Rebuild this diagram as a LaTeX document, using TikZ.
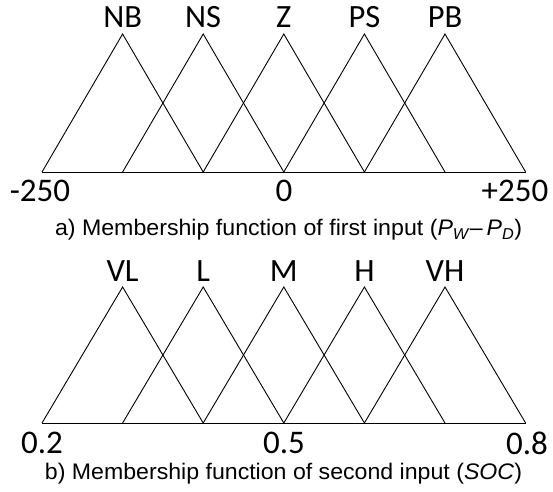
\documentclass[tikz,border=0pt]{standalone}
\usepackage{graphicx}
\usepackage{fontspec}
\setmainfont{Carlito}
\newfontfamily\capfont{Liberation Sans}
\begin{document}
\begin{tikzpicture}[x=1pt,y=-1pt,
  mf/.style={line width=0.9pt,line join=miter},
  lbl/.style={font=\fontsize{32.5}{38}\selectfont,inner sep=0pt},
  ticklbl/.style={font=\fontsize{33}{38}\selectfont,inner sep=0pt},
  captxt/.style={font=\capfont\fontsize{22.5}{26}\selectfont,inner sep=0pt}]
\useasboundingbox (0,0) rectangle (553,491);
% x positions
\def\xa{42}\def\xb{122.6}\def\xc{203.2}\def\xd{283.8}\def\xe{364.4}\def\xf{445}\def\xg{525.6}
% ---- top chart ----
\coordinate (t0) at (\xa,172);
\coordinate (t1) at (\xb,172);
\coordinate (t2) at (\xc,172);
\coordinate (t3) at (\xd,172);
\coordinate (t4) at (\xe,172);
\coordinate (t5) at (\xf,172);
\coordinate (t6) at (\xg,172);
\coordinate (p1) at (\xb,34);
\coordinate (p2) at (\xc,34);
\coordinate (p3) at (\xd,34);
\coordinate (p4) at (\xe,34);
\coordinate (p5) at (\xf,34);
\draw[mf] (t0) -- (t6);
\draw[mf] (t0) -- (p1) -- (t2);
\draw[mf] (t1) -- (p2) -- (t3);
\draw[mf] (t2) -- (p3) -- (t4);
\draw[mf] (t3) -- (p4) -- (t5);
\draw[mf] (t4) -- (p5) -- (t6);
\node[lbl] (nb) at (\xb,17) {NB};
\node[lbl] (ns) at (\xc,17) {NS};
\node[lbl] (z) at (\xd,17) {Z};
\node[lbl] (ps) at (\xe,17) {PS};
\node[lbl] (pb) at (\xf,17) {PB};
\node[ticklbl] (m250) at (40,191) {-250};
\node[ticklbl] (zero) at (284,191) {0};
\node[ticklbl] (p250) at (515,191) {+250};
\node[captxt] (capa) at (288.5,230) {\resizebox{467pt}{\height}{a) Membership function of first input (\textit{P\textsubscript{W}}\kern1pt–\,\textit{P\textsubscript{D}})}};
% ---- bottom chart ----
\coordinate (b0) at (\xa,423);
\coordinate (b1) at (\xb,423);
\coordinate (b2) at (\xc,423);
\coordinate (b3) at (\xd,423);
\coordinate (b4) at (\xe,423);
\coordinate (b5) at (\xf,423);
\coordinate (b6) at (\xg,423);
\coordinate (q1) at (\xb,287);
\coordinate (q2) at (\xc,287);
\coordinate (q3) at (\xd,287);
\coordinate (q4) at (\xe,287);
\coordinate (q5) at (\xf,287);
\draw[mf] (b0) -- (b6);
\draw[mf] (b0) -- (q1) -- (b2);
\draw[mf] (b1) -- (q2) -- (b3);
\draw[mf] (b2) -- (q3) -- (b4);
\draw[mf] (b3) -- (q4) -- (b5);
\draw[mf] (b4) -- (q5) -- (b6);
\node[lbl] (vl) at (\xb,271) {VL};
\node[lbl] (l) at (\xc,271) {L};
\node[lbl] (m) at (\xd,271) {M};
\node[lbl] (h) at (\xe,271) {H};
\node[lbl] (vh) at (\xf,271) {VH};
\node[ticklbl] (t02) at (42,443) {0.2};
\node[ticklbl] (t05) at (284,443) {0.5};
\node[ticklbl] (t08) at (527,443) {0.8};
\node[captxt] (capb) at (283.5,474) {\resizebox{477pt}{\height}{b) Membership function of second input (\textit{SOC})}};
\end{tikzpicture}
\end{document}
